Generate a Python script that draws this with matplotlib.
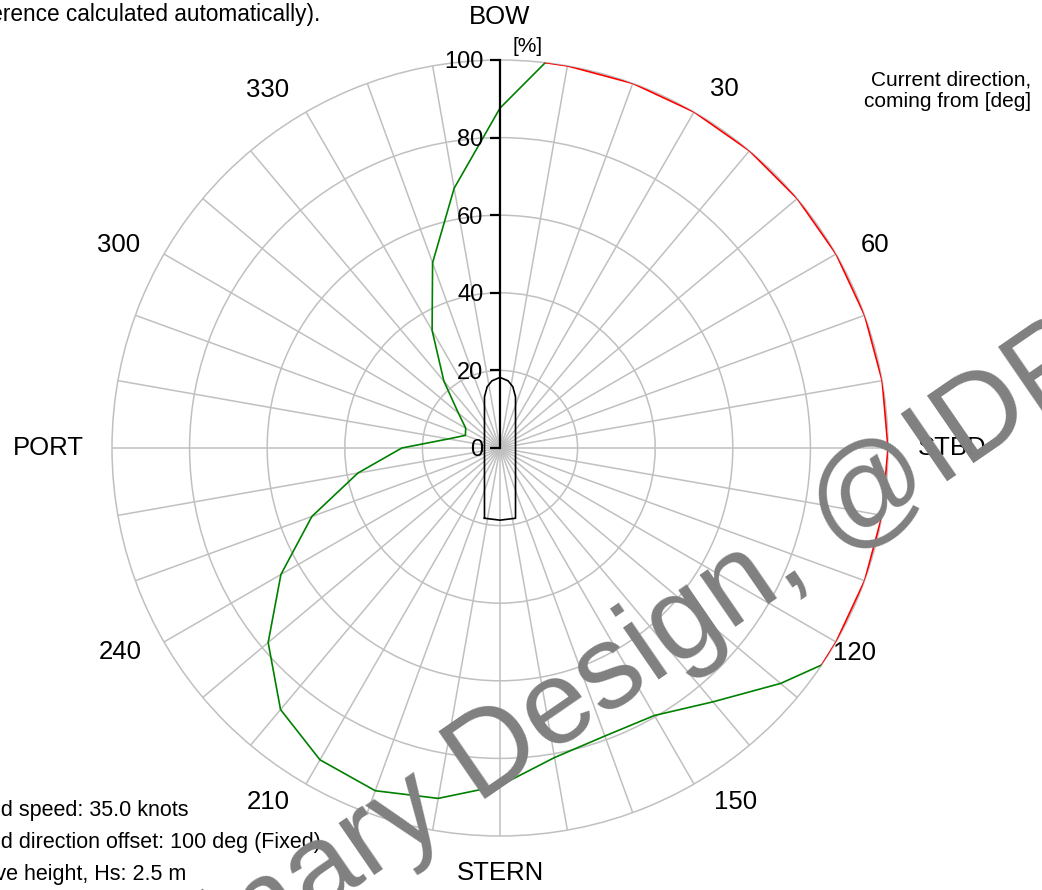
import numpy as np
import matplotlib.pyplot as plt

plt.rcParams['font.family'] = ['Liberation Sans', 'DejaVu Sans']

# current direction (deg, coming from) vs. capability [%]
green_dir = [124, 130, 140, 150, 160, 170, 180, 190, 200, 210, 220, 230, 240, 250,
             260, 270, 280, 290, 300, 310, 320, 330, 340, 350, 360, 366.7]
green_pct = [100, 94.4, 85.4, 79.6, 79.0, 81.0, 87.0, 91.7, 94.0, 92.8, 88.0, 78.0,
             65.2, 51.6, 37.2, 25.3, 13.5, 9.5, 10.2, 14.0, 22.5, 35.0, 50.8, 68.0,
             87.6, 100]
red_dir = [6.7, 10, 20, 30, 40, 50, 60, 70, 80, 90, 100, 110, 120, 124]
red_pct = [100] * len(red_dir)

r_ticks = [0, 20, 40, 60, 80, 100]
dir_labels = ['BOW', '30', '60', 'STBD', '120', '150', 'STERN', '210', '240', 'PORT', '300', '330']

# ship outline, in % units (x to starboard, y to bow)
ship_x = [-4.0, 0.0, 4.0, 4.0, 3.3, 2.1, 0.0, -2.1, -3.3, -4.0, -4.0]
ship_y = [-18.1, -18.6, -18.1, 13.2, 15.8, 17.3, 18.2, 17.3, 15.8, 13.2, -18.1]

info_lines = ['Wind speed: 35.0 knots',
              'Wind direction offset: 100 deg (Fixed)',
              'Wave height, Hs: 2.5 m']

W, H = 1042, 890
fig = plt.figure(figsize=(W / 100, H / 100), dpi=100)
cx, cy, R = 500, 448, 388
rect = [(cx - R) / W, (H - cy - R) / H, 2 * R / W, 2 * R / H]

grid_col = '#c0c0c0'
ax = fig.add_axes(rect, projection='polar')
ax.set_theta_zero_location('N')
ax.set_theta_direction(-1)
ax.set_ylim(0, 100)
ax.set_yticks([20, 40, 60, 80])
ax.set_yticklabels([])
ax.set_xticks(np.deg2rad(np.arange(0, 360, 10)))
ax.set_xticklabels([])
ax.grid(True, color=grid_col, lw=1.1)
ax.spines['polar'].set_color(grid_col)
ax.spines['polar'].set_linewidth(1.1)

ax.plot(np.deg2rad(green_dir), green_pct, color='#008000', lw=1.2, zorder=4)
ax.plot(np.deg2rad(red_dir), red_pct, color='#ff0000', lw=1.2, zorder=5)

# direction labels around the rim
lab_pos = {'BOW': (0, 111), '30': (32, 109), '60': (61.6, 110), 'STBD': (90, 116.5),
           '120': (120, 105.5), '150': (146.4, 109.5), 'STERN': (180, 109.5),
           '210': (213.2, 109), '240': (241.8, 111), 'PORT': (270, 116.5),
           '300': (298, 111.3), '330': (327, 110)}
for lab in dir_labels:
    th, rr = lab_pos[lab]
    ax.text(np.deg2rad(th), rr, lab, ha='center', va='center', fontsize=18.5,
            clip_on=False)

# cartesian overlay: radial scale and ship
ax2 = fig.add_axes(rect)
ax2.set_xlim(-100, 100)
ax2.set_ylim(-100, 100)
ax2.patch.set_visible(False)
for s in ['top', 'right', 'bottom']:
    ax2.spines[s].set_visible(False)
ax2.spines['left'].set_position(('data', 0))
ax2.spines['left'].set_bounds(0, 100)
ax2.spines['left'].set_linewidth(1.6)
ax2.set_xticks([])
ax2.set_yticks(r_ticks)
ax2.set_yticklabels([str(v) for v in r_ticks])
ax2.tick_params(axis='y', direction='out', length=7, width=1.6, pad=5, labelsize=17)
ax2.plot(ship_x, ship_y, color='black', lw=1.2)

fig.text(528 / W, 1 - 47 / H, '[%]', ha='center', va='center', fontsize=15)
fig.text(1031 / W, 1 - 70 / H, 'Current direction,\ncoming from [deg]', ha='right',
         va='top', fontsize=15, linespacing=1.2)
fig.text(320 / W, 1 - 3 / H,
         'Wind direction relative to current direction (difference calculated automatically).',
         ha='right', va='top', fontsize=16.3)
for i, line in enumerate(info_lines):
    fig.text(-36 / W, 1 - (816 + 32 * i) / H, line, ha='left', va='baseline', fontsize=15.5)

# watermark
fig.text(-42 / W, 1 - 1161 / H, 'Preliminary Design, @IDRA', rotation=34.5,
         rotation_mode='anchor', ha='left', va='baseline', fontsize=86,
         color='#808080', zorder=10)

fig.savefig('out.png', dpi=100)
